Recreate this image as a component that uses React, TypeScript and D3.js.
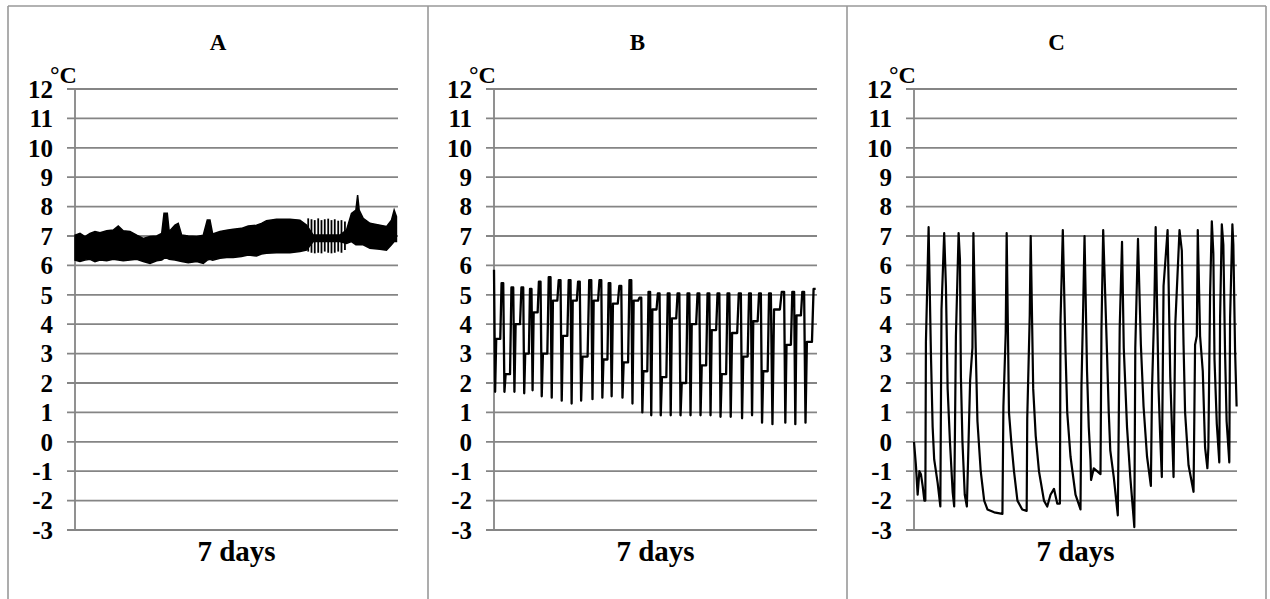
import React from "react";
import * as d3 from "d3";

// y axis ticks (°C) and texts
const tempTicks = [12, 11, 10, 9, 8, 7, 6, 5, 4, 3, 2, 1, 0, -1, -2, -3];
const panelTitles = ["A", "B", "C"];
const xLabel = "7 days";
const yUnit = "°C";

// A: dense band, hours vs upper / lower envelope of the logged temperature
const aTime = [0.0, 2.6, 5.2, 7.8, 10.4, 13.0, 16.5, 19.9, 22.5, 25.1, 28.6, 32.1, 35.5, 39.0, 42.5, 45.1, 46.3, 48.0, 49.0, 52.0, 53.7, 55.5, 58.9, 63.3, 66.7, 68.8, 70.2, 71.6, 75.4, 78.9, 82.3, 86.6, 90.1, 94.4, 97.0, 99.6, 104.8, 111.8, 117.0, 120.4, 123.9, 130.8, 137.8, 141.2, 143.8, 146.1, 147.0, 147.8, 149.9, 153.4, 158.6, 162.0, 164.6, 166.0, 167.2];
const aUpper = [7.03, 7.09, 6.98, 7.09, 7.15, 7.11, 7.18, 7.2, 7.34, 7.18, 7.15, 7.03, 6.92, 6.98, 7.0, 7.09, 7.77, 7.77, 7.15, 7.37, 7.43, 7.03, 7.0, 6.98, 7.03, 7.54, 7.54, 7.07, 7.15, 7.2, 7.23, 7.26, 7.34, 7.37, 7.43, 7.52, 7.57, 7.57, 7.54, 7.37, 7.03, 7.03, 7.03, 7.2, 7.77, 7.88, 8.39, 7.88, 7.6, 7.43, 7.37, 7.32, 7.54, 7.88, 7.66];
const aLower = [6.18, 6.13, 6.18, 6.21, 6.13, 6.18, 6.16, 6.21, 6.18, 6.16, 6.18, 6.21, 6.13, 6.07, 6.16, 6.18, 6.24, 6.24, 6.21, 6.18, 6.16, 6.13, 6.09, 6.13, 6.07, 6.18, 6.21, 6.18, 6.24, 6.27, 6.27, 6.3, 6.35, 6.32, 6.39, 6.41, 6.43, 6.43, 6.47, 6.52, 6.81, 6.81, 6.81, 6.75, 6.81, 6.7, 6.7, 6.7, 6.7, 6.58, 6.55, 6.52, 6.7, 6.81, 6.81];
const aSpikeTime = [121.3, 123.0, 124.7, 126.5, 128.2, 129.9, 131.7, 133.4, 135.1, 136.9, 138.6, 140.4];
const aSpikeHigh = [7.6, 7.57, 7.54, 7.6, 7.54, 7.57, 7.59, 7.54, 7.57, 7.52, 7.54, 7.49];
const aSpikeLow = [6.47, 6.43, 6.41, 6.43, 6.41, 6.47, 6.43, 6.41, 6.43, 6.47, 6.43, 6.52];

// B: defrost cycles, peak time / peak, trough and middle level of each cycle
const bPeakTime = [0, 4.8, 10.0, 15.2, 19.5, 24.2, 29.4, 34.6, 39.8, 44.6, 50.6, 55.8, 60.5, 66.2, 71.4, 76.6, 81.2, 86.1, 91.3, 96.4, 101.6, 106.8, 112.0, 117.2, 122.4, 128.4, 133.6, 138.8, 144.0, 150.9, 156.1, 161.3, 167.3];
const bPeak = [5.85, 5.4, 5.25, 5.25, 5.2, 5.45, 5.6, 5.5, 5.5, 5.45, 5.5, 5.5, 5.4, 5.3, 5.5, 4.9, 5.1, 5.05, 5.05, 5.05, 5.05, 5.05, 5.05, 5.05, 5.05, 5.05, 5.05, 5.05, 5.05, 5.1, 5.1, 5.1, 5.2];
const bTrough = [1.7, 1.7, 1.7, 1.65, 1.75, 1.55, 1.5, 1.4, 1.3, 1.4, 1.45, 1.5, 1.55, 1.5, 1.3, 1.0, 0.9, 0.9, 0.9, 0.9, 0.9, 0.9, 0.9, 0.85, 0.85, 0.8, 0.9, 0.65, 0.6, 0.65, 0.6, 0.65];
const bMid = [3.5, 2.3, 4.0, 3.0, 4.4, 3.0, 4.8, 3.6, 4.8, 2.9, 4.8, 2.8, 4.7, 2.7, 4.8, 2.4, 4.5, 2.2, 4.2, 2.0, 4.0, 2.6, 3.8, 2.3, 3.7, 2.9, 4.1, 2.4, 4.5, 3.3, 4.3, 3.4];

// C: hours and temperature
const cTime = [0, 1.0, 1.9, 2.8, 3.6, 4.5, 5.4, 5.9, 6.2, 7.6, 8.8, 9.7, 10.5, 12.3, 13.7, 14.3, 15.7, 16.6, 17.5, 18.7, 20.1, 20.9, 21.8, 23.2, 23.9, 24.4, 25.2, 26.4, 27.5, 29.2, 30.4, 30.9, 32.1, 33.0, 34.7, 36.5, 38.2, 41.7, 46.0, 46.5, 47.7, 48.2, 49.4, 50.6, 52.0, 53.8, 56.3, 58.6, 58.9, 60.2, 60.7, 62.0, 63.3, 65.0, 67.6, 69.3, 71.0, 72.8, 74.5, 75.9, 76.2, 77.4, 78.8, 79.7, 81.4, 84.0, 86.6, 87.1, 88.0, 88.7, 90.0, 90.9, 91.8, 92.1, 93.5, 97.0, 97.5, 98.4, 100.4, 101.3, 102.1, 103.9, 106.0, 107.0, 108.2, 109.1, 110.8, 112.5, 114.6, 115.1, 116.5, 118.0, 119.4, 121.2, 123.2, 123.8, 125.0, 125.7, 127.2, 128.1, 128.9, 129.8, 131.9, 132.4, 133.3, 134.1, 135.0, 135.9, 138.1, 139.3, 140.2, 141.0, 142.8, 145.4, 146.2, 147.1, 147.6, 148.8, 150.2, 151.4, 152.6, 153.1, 154.0, 154.9, 155.7, 156.3, 157.5, 158.8, 159.2, 160.1, 160.9, 161.8, 162.6, 164.0, 164.4, 165.6, 166.1, 167.0, 167.8];
const cTemp = [0.0, -0.8, -1.8, -1.0, -1.1, -1.5, -2.0, -2.0, 3.4, 7.3, 3.0, 0.5, -0.6, -1.4, -2.2, 4.5, 7.1, 5.3, 1.8, 0.0, -1.7, -2.2, 3.6, 7.1, 6.2, 2.2, 0.0, -1.8, -2.2, 2.1, 3.2, 7.1, 3.2, 0.7, -1.0, -2.0, -2.3, -2.4, -2.45, 1.2, 3.7, 7.1, 1.0, 0.0, -1.0, -2.0, -2.3, -2.35, 0.8, 4.3, 7.0, 1.8, 0.2, -1.0, -2.0, -2.2, -1.8, -1.6, -2.1, -2.1, 4.1, 7.2, 3.1, 1.0, -0.5, -1.8, -2.3, 1.9, 4.6, 7.0, 2.4, 0.5, -0.6, -1.3, -0.9, -1.1, 3.8, 7.2, 3.0, 1.0, -0.3, -1.2, -2.5, 3.9, 6.8, 3.2, 0.5, -1.2, -2.9, 3.2, 6.9, 3.3, 1.2, -0.5, -1.5, 1.8, 4.6, 7.3, 1.8, 0.1, -1.2, 5.3, 7.2, 5.5, 2.2, 0.6, -1.2, 4.0, 7.2, 6.5, 3.3, 1.0, -0.8, -1.7, 3.3, 3.6, 7.2, 3.6, 2.4, -0.2, -0.9, -0.2, 5.0, 7.5, 6.4, 2.8, 0.6, -0.7, 4.2, 7.4, 6.7, 3.0, 0.7, -0.7, 4.2, 7.4, 6.7, 3.1, 1.2];

const W = 1270;
const H = 599;
const borderX = [8, 428, 847, 1266];
const axisX = [75, 494, 914];
const plotW = 323;
const font = "'Liberation Serif', 'Times New Roman', serif";
const gridColor = "#858585";

const y = d3.scaleLinear().domain([-3, 12]).range([530, 89]);

function bSeries(): [number, number][] {
  const pts: [number, number][] = [];
  bPeakTime.forEach((t, i) => {
    pts.push([t, bPeak[i]]);
    if (i < bTrough.length) {
      const s = bPeakTime[i + 1] - t;
      pts.push([t + s * 0.12, bTrough[i]]);
      pts.push([t + s * 0.24, bMid[i]]);
      pts.push([t + s * 0.68, bMid[i]]);
      pts.push([t + s * 0.82, bPeak[i + 1]]);
    }
  });
  return pts;
}

function Panel({ idx }: { idx: number }) {
  const left = axisX[idx];
  const x = d3.scaleLinear().domain([0, 168]).range([left, left + plotW]);
  const line = d3
    .line<[number, number]>()
    .x((d) => x(d[0]))
    .y((d) => y(d[1]));

  let marks: React.ReactNode = null;
  if (idx === 0) {
    const area = d3
      .area<number>()
      .x((i) => x(aTime[i]))
      .y0((i) => y(aLower[i]))
      .y1((i) => y(aUpper[i]));
    marks = (
      <g>
        <path d={area(d3.range(aTime.length)) || ""} fill="#000" stroke="#000" strokeWidth={1.5} />
        {aSpikeTime.map((t, i) => (
          <line key={i} x1={x(t)} x2={x(t)} y1={y(aSpikeHigh[i])} y2={y(aSpikeLow[i])} stroke="#000" strokeWidth={1.8} />
        ))}
      </g>
    );
  } else if (idx === 1) {
    marks = <path d={line(bSeries()) || ""} fill="none" stroke="#000" strokeWidth={2.3} strokeLinejoin="round" />;
  } else {
    const pts = cTime.map((t, i) => [t, cTemp[i]] as [number, number]);
    marks = <path d={line(pts) || ""} fill="none" stroke="#000" strokeWidth={2.2} strokeLinejoin="round" />;
  }

  const center = (borderX[idx] + borderX[idx + 1]) / 2;
  return (
    <g>
      <text x={center} y={50} textAnchor="middle" fontFamily={font} fontWeight="bold" fontSize={23}>
        {panelTitles[idx]}
      </text>
      {tempTicks.map((t) => (
        <g key={t}>
          <line x1={left - 8} x2={left + plotW} y1={y(t)} y2={y(t)} stroke={gridColor} strokeWidth={1.8} />
          <text x={left - 22} y={y(t)} dy="0.35em" textAnchor="end" fontFamily={font} fontWeight="bold" fontSize={25}>
            {t}
          </text>
        </g>
      ))}
      <line x1={left} x2={left} y1={y(12)} y2={y(-3)} stroke={gridColor} strokeWidth={1.8} />
      <text x={left - 25} y={83} fontFamily={font} fontWeight="bold" fontSize={24}>
        {yUnit}
      </text>
      {marks}
      <text x={left + plotW / 2} y={561} textAnchor="middle" fontFamily={font} fontWeight="bold" fontSize={29}>
        {xLabel}
      </text>
    </g>
  );
}

export default function App() {
  return (
    <div style={{ position: "absolute", left: 0, top: 0 }}>
      <svg width={W} height={H} style={{ display: "block", background: "#fff" }}>
        <rect x={0} y={0} width={W} height={H} fill="#fff" />
        <line x1={borderX[0]} x2={borderX[3]} y1={6} y2={6} stroke="#999" strokeWidth={1.6} />
        {borderX.map((bx, i) => (
          <line key={i} x1={bx} x2={bx} y1={6} y2={H + 2} stroke="#999" strokeWidth={1.6} />
        ))}
        {[0, 1, 2].map((i) => (
          <Panel key={i} idx={i} />
        ))}
      </svg>
    </div>
  );
}
